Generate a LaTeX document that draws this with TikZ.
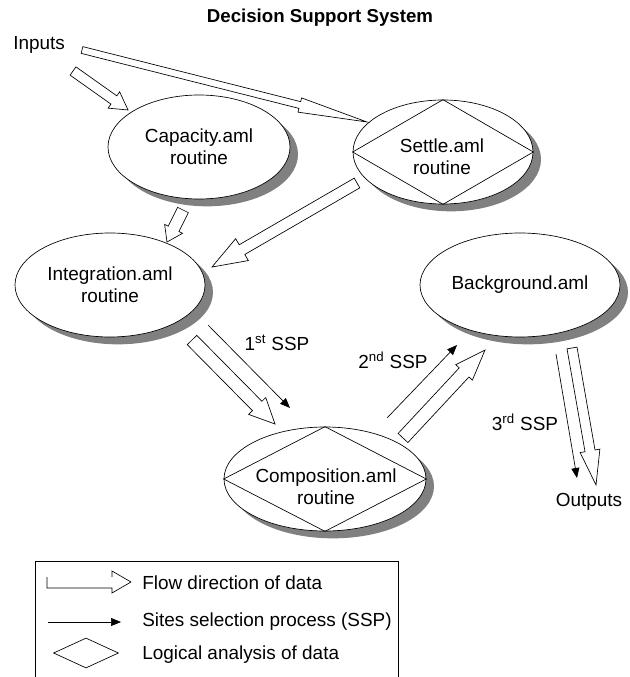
\documentclass[tikz,border=0pt]{standalone}
\usepackage{fontspec}
\setmainfont{Liberation Sans}
\usetikzlibrary{calc,shapes.geometric,shadows,arrows.meta}

% open block arrow from #1 to #2: shaft half width #3, head half width #4, head length #5
\newcommand\flowarr[5]{%
  \coordinate (fa-base) at ($(#2)!#5!(#1)$);
  \draw[flowarrow] ($(#1)!#3!90:(#2)$) -- ($(fa-base)!#3!90:(#2)$)
    -- ($(fa-base)!#4!90:(#2)$) -- (#2) -- ($(fa-base)!#4!-90:(#2)$)
    -- ($(fa-base)!#3!-90:(#2)$) -- ($(#1)!#3!-90:(#2)$) -- cycle;}

\tikzset{
  routine/.style={ellipse, draw=black, line width=0.5pt, fill=white,
    inner sep=0pt, minimum height=78pt, align=center,
    font=\fontsize{14.2}{16.5}\selectfont,
    drop shadow={shadow xshift=6pt, shadow yshift=-5.5pt, fill=black!50, opacity=1}},
  rtext/.style={align=center, inner sep=0pt, font=\fontsize{14.2}{16.5}\selectfont},
  txt/.style={inner sep=0pt, font=\fontsize{14.2}{17}\selectfont},
  flowarrow/.style={draw=black, fill=white, line width=0.5pt, line join=miter},
  sspline/.style={line width=0.5pt, -{Triangle[length=7.5pt,width=6pt]}},
  logic/.style={line width=0.5pt, line join=miter},
}

\begin{document}
\begin{tikzpicture}[x=0.75pt, y=-0.75pt]
\useasboundingbox (0,0) rectangle (629,677);

% title
\node[inner sep=0pt, font=\bfseries\fontsize{14}{16}\selectfont] (title) at (320,18) {Decision Support System};

% routines
\node[routine, minimum width=136.5pt] (cap) at (199,147) {Capacity.aml\\routine};
\node[routine, minimum width=135pt] (settle) at (443,152) {};
\node[routine, minimum width=142.5pt] (integ) at (110,285) {Integration.aml\\routine};
\node[routine, minimum width=150pt] (backg) at (520,285) {Background.aml};
\node[routine, minimum width=151.5pt] (compo) at (325,479) {};

% logical analysis inside two routines
\draw[logic] (settle.north) -- (settle.east) -- (settle.south) -- (settle.west) -- cycle;
\draw[logic] (compo.north) -- (compo.east) -- (compo.south) -- (compo.west) -- cycle;
\node[rtext] (settle-t) at (442,157) {Settle.aml\\routine};
\node[rtext] (compo-t) at (326,487) {Composition.aml\\routine};

% free labels
\node[txt, anchor=west] (inputs) at (13,45) {Inputs};
\node[txt] (outputs) at (589,502) {Outputs};
\node[txt] (ssp1) at (277,343) {1\textsuperscript{st} SSP};
\node[txt] (ssp2) at (393,360) {2\textsuperscript{nd} SSP};
\node[txt] (ssp3) at (525,422) {3\textsuperscript{rd} SSP};

% end points of the connectors
\coordinate (in-a) at (73,71);    \coordinate (in-b) at (128,110);
\coordinate (in-c) at (82,50);    \coordinate (in-d) at (367,122);
\coordinate (ci-a) at (183,210);  \coordinate (ci-b) at (167,242);
\coordinate (si-a) at (357,183);  \coordinate (si-b) at (212,267);
\coordinate (ic-a) at (192,340);  \coordinate (ic-b) at (275,424);
\coordinate (cb-a) at (403,438);  \coordinate (cb-b) at (485,350);
\coordinate (bo-a) at (572,348);  \coordinate (bo-b) at (596,485);
\coordinate (p1-a) at (208,325);  \coordinate (p1-b) at (290,408);
\coordinate (p2-a) at (387,418);  \coordinate (p2-b) at (457,345);
\coordinate (p3-a) at (556,354);  \coordinate (p3-b) at (577,478);

% data flow
\flowarr{in-a}{in-b}{3.8pt}{7.5pt}{13pt}
\flowarr{in-c}{in-d}{2.6pt}{5.5pt}{52pt}
\flowarr{ci-a}{ci-b}{4.5pt}{7.5pt}{11pt}
\flowarr{si-a}{si-b}{4.2pt}{9.5pt}{26pt}
\flowarr{ic-a}{ic-b}{5pt}{9pt}{19pt}
\flowarr{cb-a}{cb-b}{5pt}{8.5pt}{23pt}
\flowarr{bo-a}{bo-b}{3.8pt}{7.5pt}{26pt}

% site selection process
\draw[sspline] (p1-a) -- (p1-b);
\draw[sspline] (p2-a) -- (p2-b);
\draw[sspline] (p3-a) -- (p3-b);

% legend
\draw[line width=0.6pt] (35,677) -- (35,561) -- (398,561) -- (398,677);
\coordinate (lg1) at (47,577);
\draw[logic] (lg1) -- ++(0,11) -- ++(65,0) -- ++(0,5) -- ++(19,-11) -- ++(-19,-11) -- ++(0,6);
\node[txt, anchor=west] (lg1-t) at (142,583) {Flow direction of data};
\coordinate (lg2-a) at (48,622);  \coordinate (lg2-b) at (121,622);
\draw[sspline] (lg2-a) -- (lg2-b);
\node[txt, anchor=west] (lg2-t) at (142,622) {Sites selection process (SSP)};
\node[diamond, draw=black, line width=0.5pt, minimum width=48.75pt, minimum height=22.5pt, inner sep=0pt] (lg3) at (86,653) {};
\node[txt, anchor=west] (lg3-t) at (142,655) {Logical analysis of data};
\end{tikzpicture}
\end{document}
